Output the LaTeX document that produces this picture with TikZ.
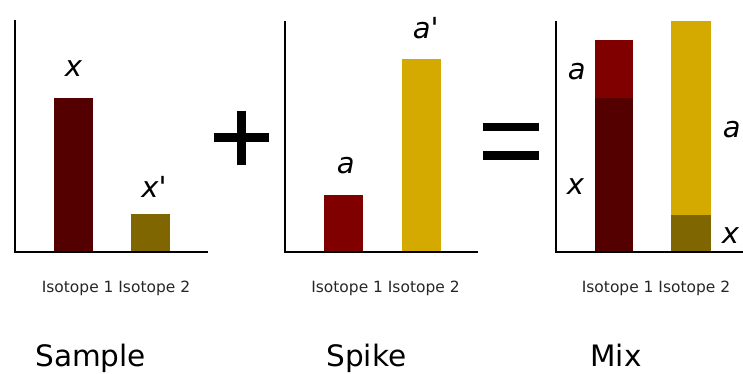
\documentclass[tikz,border=0pt]{standalone}
\usepackage{fontspec}
\setmainfont{DejaVu Sans}
\definecolor{colX}{HTML}{550000}
\definecolor{colXp}{HTML}{806600}
\definecolor{colA}{HTML}{800000}
\definecolor{colAp}{HTML}{D4AA00}

\begin{document}
\begin{tikzpicture}[x=0.02cm, y=-0.02cm,
    axis/.style={line width=1.2pt},
    lbl/.style={font=\fontsize{16.5}{19}\selectfont\itshape, inner sep=0pt, anchor=base west},
    iso/.style={font=\fontsize{8.8}{10}\selectfont, text=black!85, inner sep=0pt, anchor=base west},
    title/.style={font=\fontsize{16.8}{20}\selectfont, inner sep=0pt, anchor=base west}]
    \useasboundingbox (0,0) rectangle (743,373);

    % 1. Sample: bars, axes and labels
    \fill[colX] (54,98) rectangle (93,252);
    \fill[colXp] (131,214) rectangle (170,252);
    \draw[axis] (15,20) -- (15,252) -- (208,252);
    \node[lbl] (sx) at (64.5,76.5) {x};
    \node[lbl] (sxp) at (141,197) {x\textquotesingle};
    \node[iso] (siso) at (41.5,292.5) {Isotope 1 Isotope 2};
    \node[title] (sample) at (35,366.5) {Sample};

    % 2. plus sign
    \fill (236.5,110.5) rectangle (245.5,165);
    \fill (213.5,133) rectangle (268.5,142);

    % 3. Spike: bars, axes and labels
    \fill[colA] (324,195) rectangle (363,252);
    \fill[colAp] (401.5,59) rectangle (440.5,252);
    \draw[axis] (285,21) -- (285,252) -- (478,252);
    \node[lbl] (ka) at (336.5,173.5) {a};
    \node[lbl] (kap) at (412.5,38.5) {a\textquotesingle};
    \node[iso] (kiso) at (311,292.5) {Isotope 1 Isotope 2};
    \node[title] (spike) at (326,366.5) {Spike};

    % 4. equals sign
    \fill (483,122.5) rectangle (538.5,130.5);
    \fill (483,151) rectangle (538.5,159.5);

    % 5. Mix: stacked bars, axes and labels
    \fill[colA] (594.5,40) rectangle (633,98);
    \fill[colX] (594.5,98) rectangle (633,252);
    \fill[colAp] (671,21) rectangle (710.5,215);
    \fill[colXp] (671,215) rectangle (710.5,252);
    \draw[axis] (556,21) -- (556,252) -- (743,252);
    \node[lbl] (ma) at (567.5,79.5) {a};
    \node[lbl] (mx) at (566.5,194.5) {x};
    \node[lbl] (mar) at (722.5,137.5) {a};
    \node[lbl] (mxr) at (721.5,243.5) {x};
    \node[iso] (miso) at (581.5,292.5) {Isotope 1 Isotope 2};
    \node[title] (mix) at (590,366.5) {Mix};
\end{tikzpicture}
\end{document}
